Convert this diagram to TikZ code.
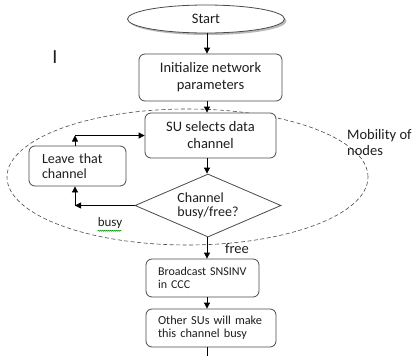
\documentclass[tikz,border=0pt]{standalone}
\usepackage{fontspec}
\setmainfont{Carlito}
\usetikzlibrary{shapes.geometric,arrows.meta,decorations.pathmorphing}
\definecolor{bord}{HTML}{4A4A4A}
\definecolor{txt}{HTML}{1E1E1E}
\begin{document}
\begin{tikzpicture}[x=1pt,y=-1pt,
  box/.style={draw=bord,line width=0.8pt,rounded corners=6pt,fill=white,text=txt,inner sep=0pt,
    font=\fontsize{14.5}{17}\selectfont,align=center},
  lbox/.style={box,align=left,inner ysep=0pt},
  arr/.style={-{Triangle[length=6pt,width=6pt]},line width=0.8pt,black},
  lbl/.style={text=txt,inner sep=0pt}]
\useasboundingbox (0,0) rectangle (414,356);
\coordinate (spine) at (207,0);
\coordinate (lx) at (75,0);
% dashed mobility ellipse
\draw[bord,dashed,dash pattern=on 4pt off 2.5pt,line width=0.6pt] (187.5,177) ellipse [x radius=180.5pt, y radius=68pt];
% start with shadow
\fill[gray!55] (208,21) ellipse [x radius=78.5pt, y radius=14pt];
\node[ellipse,draw=bord,line width=0.8pt,fill=white,minimum width=157pt,minimum height=28pt,inner sep=0pt,
  font=\fontsize{14.5}{15}\selectfont,text=txt] (start) at (206,19) {Start};
\node[box,minimum width=143pt,minimum height=47pt] (init) at (210.5,77.5) {Initialize network\\parameters};
\node[box,minimum width=131pt,minimum height=45pt] (su) at (210.5,135.5) {SU selects data\\channel};
\node[lbox,minimum width=97pt,minimum height=40pt,text width=71pt,inner xsep=13pt,
  font=\fontsize{14}{15}\selectfont] (leave) at (77.5,166) {Leave that\\channel};
\node[diamond,draw=bord,line width=0.8pt,fill=white,minimum width=146pt,minimum height=63pt,aspect=2.3,
  inner sep=0pt,align=left,text=txt,font=\fontsize{14}{14}\selectfont] (dia) at (208,205.5) {Channel\\busy/free?};
\node[lbox,minimum width=113pt,minimum height=38pt,text width=89pt,inner xsep=12pt,
  font=\fontsize{12}{13}\selectfont] (bc) at (202.5,278) {Broadcast~SNSINV\\in CCC};
\node[lbox,minimum width=130pt,minimum height=38pt,text width=106pt,inner xsep=12pt,
  font=\fontsize{12.3}{13}\selectfont] (other) at (211,328) {Other SUs will make\\this channel busy};
\coordinate (end) at (207,356);
% labels
\node[lbl,font=\fontsize{20}{20}\selectfont] (cur) at (55,57) {I};
\node[lbl,align=left,anchor=north west,font=\fontsize{14.5}{16}\selectfont] (mob) at (347,129) {Mobility of\\nodes};
\node[lbl,font=\fontsize{13}{13}\selectfont] (busy) at (110,223) {busy};
\draw[green!55!black,line width=0.5pt,decorate,decoration={snake,amplitude=0.6pt,segment length=2pt}]
  (busy.south west) ++(0,2) -- ++(24,0);
\node[lbl,font=\fontsize{14.5}{15}\selectfont] (free) at (237,249) {free};
% connectors
\draw[arr] (spine |- start.south) -- (spine |- init.north);
\draw[arr] (spine |- init.south) -- (spine |- su.north);
\draw[arr] (spine |- su.south) -- (spine |- dia.north);
\draw[arr] (dia.west) -- (lx |- dia.west);
\draw[arr] (lx |- dia.west) -- (lx |- leave.south);
\draw[arr] (lx |- leave.north) -- (lx |- su.west);
\draw[arr] (lx |- su.west) -- (su.west);
\draw[arr] (spine |- dia.south) -- (spine |- bc.north);
\draw[arr] (spine |- bc.south) -- (spine |- other.north);
\draw[line width=0.8pt] (spine |- other.south) -- (end);
\end{tikzpicture}
\end{document}
